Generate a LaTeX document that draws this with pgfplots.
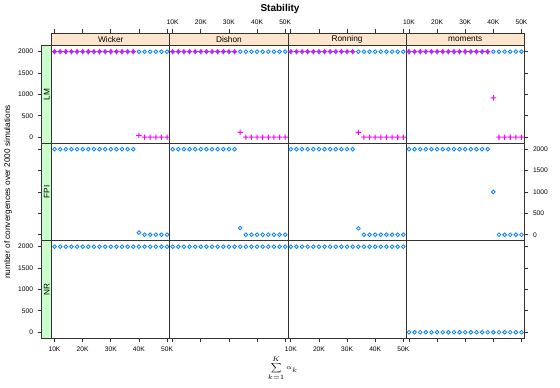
\documentclass[border=0pt]{standalone}
\usepackage{amsmath}
\usepackage{pgfplots}
\pgfplotsset{compat=1.18}
\usepackage{pgfplotstable}
\usepackage{fontspec}
\setmainfont{Liberation Sans}
\definecolor{ptblue}{RGB}{0,128,255}
\definecolor{ptmag}{RGB}{255,0,255}
\definecolor{stripo}{RGB}{255,229,204}
\definecolor{stripg}{RGB}{204,255,204}

\pgfdeclareplotmark{fplus}{%
  \pgfpathrectangle{\pgfpoint{-\pgfplotmarksize}{-0.4pt}}{\pgfpoint{2\pgfplotmarksize}{0.8pt}}%
  \pgfpathrectangle{\pgfpoint{-0.4pt}{-\pgfplotmarksize}}{\pgfpoint{0.8pt}{2\pgfplotmarksize}}%
  \pgfusepathqfill}

\pgfplotstableread{
x LWo LWp LDo LDp LRo LRp LMo LMp FW FD FR FM NW ND NR NM
10000 2000 2000 2000 2000 2000 2000 2000 2000 2000 2000 2000 2000 2000 2000 2000 0
12000 2000 2000 2000 2000 2000 2000 2000 2000 2000 2000 2000 2000 2000 2000 2000 0
14000 2000 2000 2000 2000 2000 2000 2000 2000 2000 2000 2000 2000 2000 2000 2000 0
16000 2000 2000 2000 2000 2000 2000 2000 2000 2000 2000 2000 2000 2000 2000 2000 0
18000 2000 2000 2000 2000 2000 2000 2000 2000 2000 2000 2000 2000 2000 2000 2000 0
20000 2000 2000 2000 2000 2000 2000 2000 2000 2000 2000 2000 2000 2000 2000 2000 0
22000 2000 2000 2000 2000 2000 2000 2000 2000 2000 2000 2000 2000 2000 2000 2000 0
24000 2000 2000 2000 2000 2000 2000 2000 2000 2000 2000 2000 2000 2000 2000 2000 0
26000 2000 2000 2000 2000 2000 2000 2000 2000 2000 2000 2000 2000 2000 2000 2000 0
28000 2000 2000 2000 2000 2000 2000 2000 2000 2000 2000 2000 2000 2000 2000 2000 0
30000 2000 2000 2000 2000 2000 2000 2000 2000 2000 2000 2000 2000 2000 2000 2000 0
32000 2000 2000 2000 2000 2000 2000 2000 2000 2000 2000 2000 2000 2000 2000 2000 0
34000 2000 2000 2000 115 2000 110 2000 2000 2000 156 148 2000 2000 2000 2000 0
36000 2000 2000 2000 0 2000 0 2000 2000 2000 0 0 2000 2000 2000 2000 0
38000 2000 2000 2000 0 2000 0 2000 2000 2000 0 0 2000 2000 2000 2000 0
40000 2000 45 2000 0 2000 0 2000 920 50 0 0 1000 2000 2000 2000 0
42000 2000 0 2000 0 2000 0 2000 0 0 0 0 0 2000 2000 2000 0
44000 2000 0 2000 0 2000 0 2000 0 0 0 0 0 2000 2000 2000 0
46000 2000 0 2000 0 2000 0 2000 0 0 0 0 0 2000 2000 2000 0
48000 2000 0 2000 0 2000 0 2000 0 0 0 0 0 2000 2000 2000 0
50000 2000 0 2000 0 2000 0 2000 0 0 0 0 0 2000 2000 2000 0
}\stab

\pgfplotsset{
  base/.style={scale only axis, anchor=north west,
    xmin=9000, xmax=51000, ymin=-140, ymax=2140,
    scaled x ticks=false, scaled y ticks=false,
    axis line style={line width=0.6pt, black!80},
    tick align=outside, major tick length=3pt,
    tick style={black!80, line width=0.5pt},
    tick label style={font=\fontsize{5}{6}\selectfont},
    /pgf/number format/assume math mode=true,
    /pgf/number format/1000 sep={},
    xtick=\empty, ytick=\empty},
  panel/.style={base, width=88.6125pt, height=73.125pt},
  xt/.style={xtick={10000,20000,30000,40000,50000}, xticklabels={10K,20K,30K,40K,50K}},
  yt/.style={ytick={0,500,1000,1500,2000}},
  topstrip/.style={base, width=88.6125pt, height=9.525pt,
    axis background/.style={fill=stripo}, xt, xtick pos=right, xticklabel pos=right},
  leftstrip/.style={base, width=7.5pt, height=73.125pt,
    axis background/.style={fill=stripg}, yt, ytick pos=left},
  circ/.style={only marks, mark=o, color=ptblue, mark size=1.4pt, mark options={line width=0.6pt, draw=ptblue}},
  crs/.style={only marks, mark=fplus, color=ptmag, mark size=2pt, mark options={fill=ptmag, draw=none}},
}
\newcommand{\stripfont}{\fontsize{6.2}{7}\selectfont}

\begin{document}
\begin{tikzpicture}
\path[use as bounding box] (0pt,0pt) rectangle (420pt,-291pt);

% ---- LM row
\begin{axis}[panel, at={(38.775pt,-34.275pt)}]
\addplot[circ] table[x=x,y=LWo] {\stab};
\addplot[crs] table[x=x,y=LWp] {\stab};
\end{axis}
\begin{axis}[panel, at={(127.3875pt,-34.275pt)}]
\addplot[circ] table[x=x,y=LDo] {\stab};
\addplot[crs] table[x=x,y=LDp] {\stab};
\end{axis}
\begin{axis}[panel, at={(216pt,-34.275pt)}]
\addplot[circ] table[x=x,y=LRo] {\stab};
\addplot[crs] table[x=x,y=LRp] {\stab};
\end{axis}
\begin{axis}[panel, at={(304.6125pt,-34.275pt)}, yt, ytick pos=right, yticklabels={}]
\addplot[circ] table[x=x,y=LMo] {\stab};
\addplot[crs] table[x=x,y=LMp] {\stab};
\end{axis}

% ---- FPI row
\begin{axis}[panel, at={(38.775pt,-107.4pt)}]
\addplot[circ] table[x=x,y=FW] {\stab};
\end{axis}
\begin{axis}[panel, at={(127.3875pt,-107.4pt)}]
\addplot[circ] table[x=x,y=FD] {\stab};
\end{axis}
\begin{axis}[panel, at={(216pt,-107.4pt)}]
\addplot[circ] table[x=x,y=FR] {\stab};
\end{axis}
\begin{axis}[panel, at={(304.6125pt,-107.4pt)}, yt, ytick pos=right, yticklabel pos=right]
\addplot[circ] table[x=x,y=FM] {\stab};
\end{axis}

% ---- NR row
\begin{axis}[panel, at={(38.775pt,-180.525pt)}, xt, xtick pos=left]
\addplot[circ] table[x=x,y=NW] {\stab};
\end{axis}
\begin{axis}[panel, at={(127.3875pt,-180.525pt)}, xt, xtick pos=left, xticklabels={}]
\addplot[circ] table[x=x,y=ND] {\stab};
\end{axis}
\begin{axis}[panel, at={(216pt,-180.525pt)}, xt, xtick pos=left]
\addplot[circ] table[x=x,y=NR] {\stab};
\end{axis}
\begin{axis}[panel, at={(304.6125pt,-180.525pt)}, xt, xtick pos=left, xticklabels={}, yt, ytick pos=right, yticklabels={}]
\addplot[circ] table[x=x,y=NM] {\stab};
\end{axis}

% ---- top strips
\begin{axis}[topstrip, at={(38.775pt,-24.75pt)}, xticklabels={}]
\node[font=\stripfont] at (rel axis cs:0.5,0.5) {Wicker};
\end{axis}
\begin{axis}[topstrip, at={(127.3875pt,-24.75pt)}]
\node[font=\stripfont] at (rel axis cs:0.5,0.5) {Dishon};
\end{axis}
\begin{axis}[topstrip, at={(216pt,-24.75pt)}, xticklabels={}]
\node[font=\stripfont] at (rel axis cs:0.5,0.5) {Ronning};
\end{axis}
\begin{axis}[topstrip, at={(304.6125pt,-24.75pt)}]
\node[font=\stripfont] at (rel axis cs:0.5,0.5) {moments};
\end{axis}

% ---- left strips
\begin{axis}[leftstrip, at={(31.275pt,-34.275pt)}]
\node[font=\stripfont, rotate=90] at (rel axis cs:0.5,0.5) {LM};
\end{axis}
\begin{axis}[leftstrip, at={(31.275pt,-107.4pt)}, yticklabels={}]
\node[font=\stripfont, rotate=90] at (rel axis cs:0.5,0.5) {FPI};
\end{axis}
\begin{axis}[leftstrip, at={(31.275pt,-180.525pt)}]
\node[font=\stripfont, rotate=90] at (rel axis cs:0.5,0.5) {NR};
\end{axis}

% ---- titles
\node[font=\fontsize{7.5}{9}\selectfont\bfseries] at (210pt,-6.5pt) {Stability};
\node[font=\stripfont, rotate=90] at (6pt,-144pt) {number of convergences over 2000 simulations};
\node[font=\fontsize{5}{6}\selectfont] at (212.25pt,-276pt) {$\displaystyle\sum_{k=1}^{K}\alpha_k$};
\end{tikzpicture}
\end{document}
